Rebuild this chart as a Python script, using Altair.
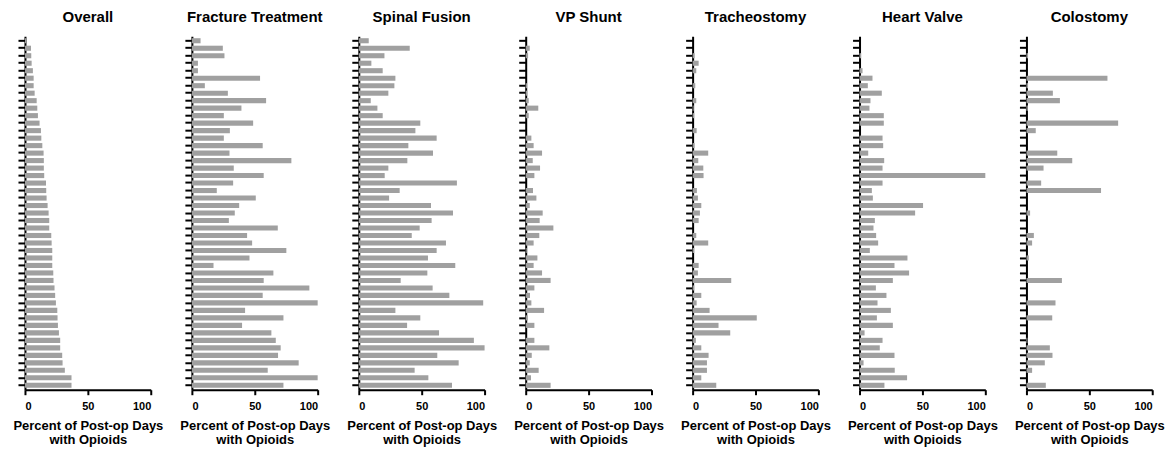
import altair as alt
import pandas as pd

hospitals = list(range(1, 48))

overall = [1, 4.8, 5, 5.3, 6.3, 6.9, 6.9, 7.7, 9.3, 9.8, 10.3, 11.6, 12.7, 13, 13.8, 14.8,
           15, 15, 15.3, 16.7, 16.9, 17.2, 18, 18.8, 19.3, 19.3, 20.9, 21.2, 21.7, 21.7,
           21.7, 22.5, 22.7, 23.5, 24, 24.6, 25.7, 25.9, 26.2, 27, 28, 28, 29.6, 29.9,
           31.7, 37, 37]
fracture = [6.9, 24.6, 25.9, 4.8, 4.8, 54.2, 10.3, 28.6, 59, 39.4, 25.4, 48.7, 30.2,
            25.4, 56.3, 29.9, 79.1, 33.3, 57.1, 32.8, 19.8, 50.8, 37.6, 34.1, 29.4, 68.3,
            43.9, 47.9, 75.1, 45.8, 17.2, 64.8, 57.1, 93.4, 56.3, 100, 42.3, 72.8, 39.9,
            63.2, 66.7, 70.6, 68.5, 84.9, 60.3, 100, 72.8]
spinal = [7.9, 40.5, 20.4, 10, 19, 29.1, 28.3, 23.5, 9.5, 14.8, 19, 48.9, 45, 61.9,
          39.4, 59, 38.6, 23.5, 20.6, 78, 32.5, 24.1, 57.4, 74.9, 57.9, 48.4, 42.1, 69.3,
          61.9, 55, 76.7, 54.5, 33.3, 58.7, 72, 98.9, 29.1, 48.9, 38.4, 63.8, 91.5, 100,
          62.4, 79.4, 44.4, 55.3, 74.1]
vp_shunt = [0, 3.2, 1.9, 0, 0, 0, 1, 1.3, 2.4, 10, 2.4, 0, 0, 4.5, 6.3, 13, 5.6, 11.4,
            6.9, 0, 5.8, 8.5, 3.2, 13.5, 11.1, 22, 10.8, 6.3, 0.8, 9.3, 6.3, 13, 19.8, 6.9,
            3.4, 4.5, 14.6, 1.6, 6.9, 0, 6.9, 18.8, 4.8, 3.2, 10.3, 4.2, 19.8]
tracheostomy = [0, 0, 1.6, 4.8, 2.9, 0, 2.1, 0, 2.9, 0.8, 1.3, 0, 3.2, 0, 1.6, 12.4, 4.5,
                8.5, 8.7, 0, 3.4, 4.2, 6.9, 5.8, 4.8, 0, 2.9, 12.4, 1.3, 0, 4.8, 4.2, 30.7,
                1.3, 6.9, 3.2, 13.5, 51, 20.6, 29.9, 2.6, 6.9, 12.7, 11.4, 11.4, 6.9, 18.8]
heart_valve = [0, 0, 1.3, 0, 2.4, 10.3, 6.6, 17.7, 8.7, 7.9, 19.3, 19.3, 0, 18.3, 18.8,
               6.9, 19.6, 18.3, 100, 18.3, 9.8, 10.6, 50.5, 44.2, 12.2, 11.1, 13.2, 14.8,
               8.2, 38.1, 27.8, 39.4, 26.5, 13, 21.4, 14.3, 24.9, 13.8, 26.5, 4, 18.3, 16.1,
               27.8, 3.2, 28, 37.8, 19.8]
colostomy = [0, 0, 1.3, 0, 0, 64.4, 1.3, 21, 26.6, 1.1, 0, 72.9, 7.4, 0, 0, 24.5, 36.4,
             13.6, 0, 11.7, 59.3, 0, 0, 2.9, 0, 0, 5.9, 4.5, 0, 1.9, 0, 0, 28.2, 0, 0,
             23.1, 0, 20.5, 0, 0, 0.8, 18.6, 20.7, 14.6, 4.5, 0, 15.4]

panel_titles = ["Overall", "Fracture Treatment", "Spinal Fusion", "VP Shunt",
                "Tracheostomy", "Heart Valve", "Colostomy"]
panel_values = [overall, fracture, spinal, vp_shunt, tracheostomy, heart_valve, colostomy]
x_ticks = [0, 50, 100]
x_title = ["Percent of Post-op Days", "with Opioids"]

FONT = "Liberation Sans"
BAR = "#a0a0a0"


def panel(title, values):
    df = pd.DataFrame({"hospital": hospitals, "pct": values})
    return (
        alt.Chart(df, title=alt.TitleParams(title, fontSize=15, fontWeight="bold",
                                             font=FONT, anchor="middle", frame="group",
                                             offset=11, color="#000000"))
        .mark_bar(color=BAR)
        .encode(
            y=alt.Y("hospital:O", sort=hospitals,
                    scale=alt.Scale(paddingInner=0.32, paddingOuter=0.25),
                    axis=alt.Axis(labels=False, title=None, ticks=True, tickSize=7,
                                  tickWidth=2, tickColor="#000000", domainWidth=2,
                                  domainColor="#000000", grid=False)),
            x=alt.X("pct:Q", scale=alt.Scale(domain=[0, 100], nice=False, zero=True),
                    axis=alt.Axis(values=x_ticks, title=x_title, grid=False,
                                  tickSize=5, tickWidth=2, tickColor="#000000",
                                  domainWidth=2, domainColor="#000000",
                                  labelFont=FONT, labelFontSize=11, labelFontWeight="bold",
                                  labelColor="#000000", labelPadding=6,
                                  titleFont=FONT, titleFontSize=13, titleFontWeight="bold",
                                  titleColor="#000000", titlePadding=8,
                                  titleLineHeight=14)),
        )
        .properties(width=126, height=354)
    )


chart = (
    alt.hconcat(*[panel(t, v) for t, v in zip(panel_titles, panel_values)],
                spacing=41.2, bounds="flush")
    .properties(padding={"left": 4, "top": 2, "right": 2, "bottom": 0})
    .configure(font=FONT)
    .configure_view(stroke=None)
)

chart.save("out.html", embed_options={"renderer": "svg", "actions": False})
